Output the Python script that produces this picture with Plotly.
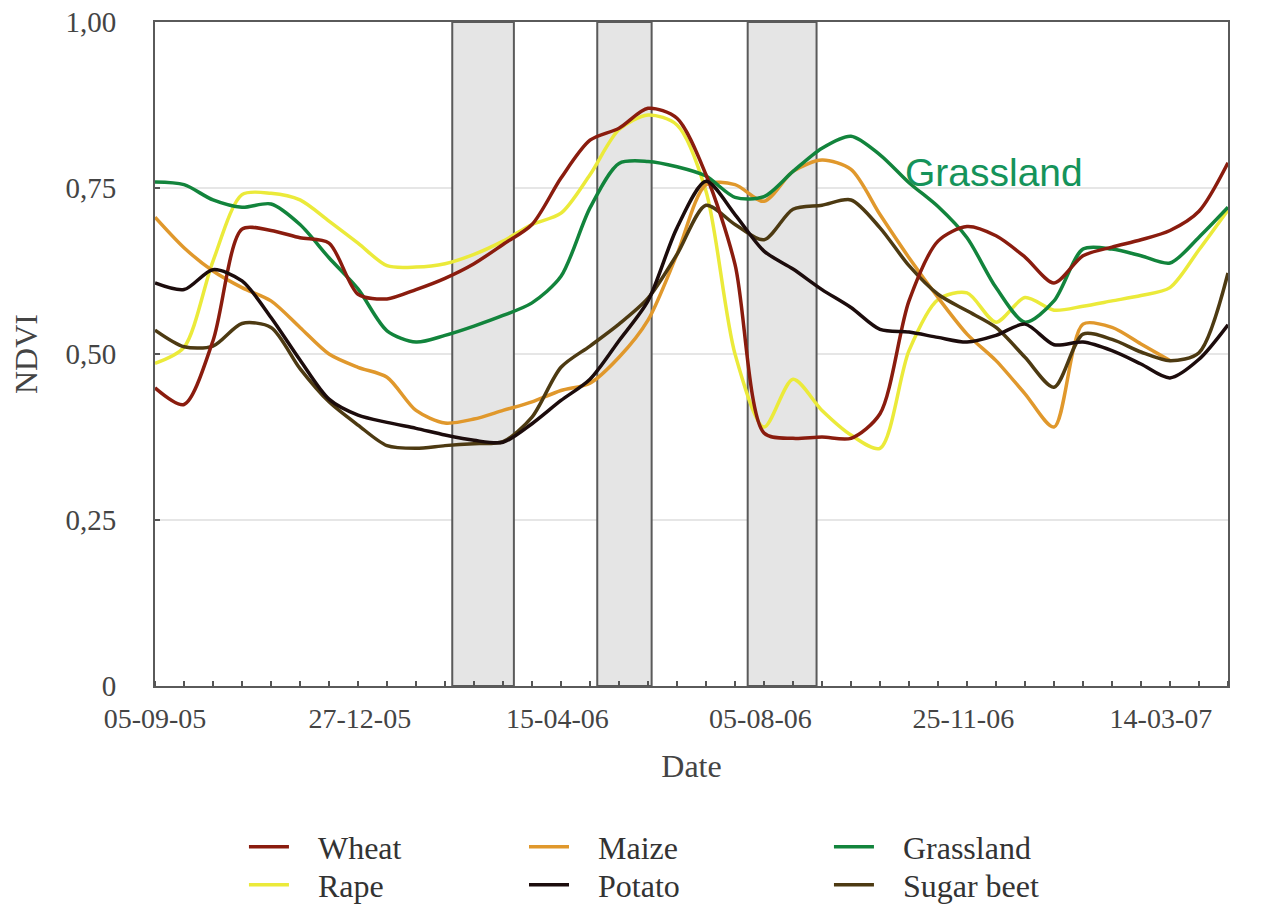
import plotly.graph_objects as go

# 16-day composite dates
dates = [
    "2005-09-05", "2005-09-21", "2005-10-07", "2005-10-23", "2005-11-08", "2005-11-24",
    "2005-12-10", "2005-12-26", "2006-01-11", "2006-01-27", "2006-02-12", "2006-02-28",
    "2006-03-16", "2006-04-01", "2006-04-17", "2006-05-03", "2006-05-19", "2006-06-04",
    "2006-06-20", "2006-07-06", "2006-07-22", "2006-08-07", "2006-08-23", "2006-09-08",
    "2006-09-24", "2006-10-10", "2006-10-26", "2006-11-11", "2006-11-27", "2006-12-13",
    "2006-12-29", "2007-01-14", "2007-01-30", "2007-02-15", "2007-03-03", "2007-03-19",
    "2007-04-04", "2007-04-20",
]

wheat = [0.449, 0.424, 0.520, 0.688, 0.686, 0.675, 0.667, 0.590, 0.583, 0.597, 0.614, 0.636,
         0.665, 0.695, 0.765, 0.822, 0.840, 0.870, 0.855, 0.770, 0.635, 0.381, 0.373, 0.375,
         0.373, 0.410, 0.580, 0.670, 0.692, 0.678, 0.646, 0.607, 0.648, 0.661, 0.672, 0.686,
         0.715, 0.788]
rape = [0.486, 0.510, 0.640, 0.740, 0.742, 0.732, 0.700, 0.667, 0.633, 0.631, 0.636, 0.650,
        0.670, 0.695, 0.712, 0.770, 0.838, 0.860, 0.845, 0.745, 0.500, 0.390, 0.462, 0.415,
        0.378, 0.358, 0.505, 0.582, 0.592, 0.548, 0.585, 0.566, 0.572, 0.580, 0.588, 0.600,
        0.657, 0.717]
maize = [0.706, 0.660, 0.625, 0.600, 0.580, 0.540, 0.500, 0.480, 0.465, 0.415, 0.396, 0.402,
         0.415, 0.428, 0.445, 0.456, 0.495, 0.551, 0.650, 0.755, 0.755, 0.730, 0.775, 0.792,
         0.778, 0.710, 0.645, 0.585, 0.530, 0.490, 0.440, 0.390, 0.545, 0.540, 0.515, 0.490,
         None, None]
potato = [0.607, 0.597, 0.627, 0.610, 0.555, 0.491, 0.432, 0.408, 0.397, 0.388, 0.378, 0.370,
          0.367, 0.395, 0.430, 0.462, 0.520, 0.580, 0.690, 0.760, 0.710, 0.655, 0.628, 0.597,
          0.570, 0.537, 0.533, 0.525, 0.518, 0.528, 0.545, 0.514, 0.518, 0.505, 0.485, 0.464,
          0.492, 0.544]
grassland = [0.759, 0.755, 0.732, 0.721, 0.726, 0.695, 0.645, 0.598, 0.535, 0.518, 0.528, 0.542,
             0.558, 0.577, 0.617, 0.720, 0.787, 0.790, 0.782, 0.768, 0.736, 0.737, 0.775, 0.810,
             0.828, 0.800, 0.758, 0.722, 0.675, 0.600, 0.548, 0.580, 0.658, 0.658, 0.648, 0.637,
             0.676, 0.721]
sugar_beet = [0.536, 0.511, 0.512, 0.546, 0.540, 0.478, 0.428, 0.393, 0.362, 0.358, 0.362, 0.365,
              0.368, 0.405, 0.480, 0.512, 0.545, 0.584, 0.650, 0.724, 0.695, 0.672, 0.718, 0.724,
              0.732, 0.690, 0.633, 0.590, 0.565, 0.540, 0.495, 0.450, 0.530, 0.522, 0.503, 0.490,
              0.502, 0.622]

tick_dates = ["2005-09-05", "2005-12-27", "2006-04-15", "2006-08-05", "2006-11-25", "2007-03-14"]
tick_labels = ["05-09-05", "27-12-05", "15-04-06", "05-08-06", "25-11-06", "14-03-07"]
y_ticks = [0, 0.25, 0.5, 0.75, 1.0]
y_labels = ["0", "0,25", "0,50", "0,75", "1,00"]

# grey periods
period_starts = ["2006-02-16", "2006-05-07", "2006-07-29"]
period_ends = ["2006-03-22", "2006-06-06", "2006-09-05"]

serif = "Liberation Serif, Times New Roman, serif"
pad = "\u00a0\u00a0\u00a0"

series = [
    # name, values, colour, legend
    ("Rape", rape, "#ebea3a", "legend2"),
    ("Maize", maize, "#e0982c", "legend3"),
    ("Sugar beet", sugar_beet, "#4d3a12", "legend6"),
    ("Grassland", grassland, "#12843c", "legend5"),
    ("Wheat", wheat, "#8a1c0e", "legend"),
    ("Potato", potato, "#1c0c0c", "legend4"),
]

fig = go.Figure()
for name, vals, colour, leg in series:
    fig.add_trace(go.Scatter(
        x=dates, y=vals, name=pad + name, mode="lines",
        line=dict(color=colour, width=3.5, shape="spline", smoothing=0.8),
        legend=leg, hoverinfo="skip"
    ))

for x0, x1 in zip(period_starts, period_ends):
    fig.add_shape(type="rect", xref="x", yref="y", x0=x0, x1=x1, y0=0, y1=1,
                  fillcolor="#e5e5e5", line=dict(color="#5a5a5a", width=2), layer="between")

fig.add_annotation(x="2006-12-12", y=0.774, xref="x", yref="y", text="Grassland", showarrow=False,
                   font=dict(family="Liberation Sans, Arial, sans-serif", size=39, color="#15935a"))


def legend_at(x, y):
    return dict(orientation="v", x=x, y=y, xanchor="left", yanchor="middle",
                font=dict(family=serif, size=32, color="#333333"), bgcolor="rgba(0,0,0,0)",
                itemwidth=40)


# the page body adds an 8 px offset, margins are set so the plot box lands where it should
fig.update_layout(
    width=1271, height=930,
    margin=dict(l=147, r=51, t=14, b=252),
    paper_bgcolor="white", plot_bgcolor="white",
    showlegend=True,
    legend=legend_at(0.0829, -0.2425),
    legend2=legend_at(0.0829, -0.2997),
    legend3=legend_at(0.3439, -0.2425),
    legend4=legend_at(0.3439, -0.2997),
    legend5=legend_at(0.6281, -0.2425),
    legend6=legend_at(0.6281, -0.2997),
    xaxis=dict(
        type="date", range=["2005-09-05", "2007-04-20"], automargin=False,
        tickvals=tick_dates, ticktext=tick_labels, ticks="", ticklabelstandoff=6,
        showline=True, linecolor="#5a5a5a", linewidth=2, mirror=True, showgrid=False,
        minor=dict(ticks="inside", ticklen=5, tickcolor="#555555", tickwidth=1.5,
                   dtick=16 * 86400000, tick0="2005-09-05", showgrid=False),
        tickfont=dict(family=serif, size=28, color="#444444"),
        title=dict(text="Date", font=dict(family=serif, size=32, color="#444444"), standoff=22),
        zeroline=False,
    ),
    yaxis=dict(
        range=[0, 1], tickvals=y_ticks, ticktext=y_labels, automargin=False,
        ticks="inside", ticklen=5, tickcolor="#555555", tickwidth=1.5,
        showline=True, linecolor="#5a5a5a", linewidth=2, mirror=True,
        showgrid=True, gridcolor="#e6e6e6", gridwidth=1.5,
        tickfont=dict(family=serif, size=29, color="#444444"),
        ticklabelstandoff=31, ticklabeloverflow="allow",
        title=dict(text="NDVI", font=dict(family=serif, size=32, color="#444444"), standoff=24),
        zeroline=False,
    ),
)

fig.write_html("out.html")
